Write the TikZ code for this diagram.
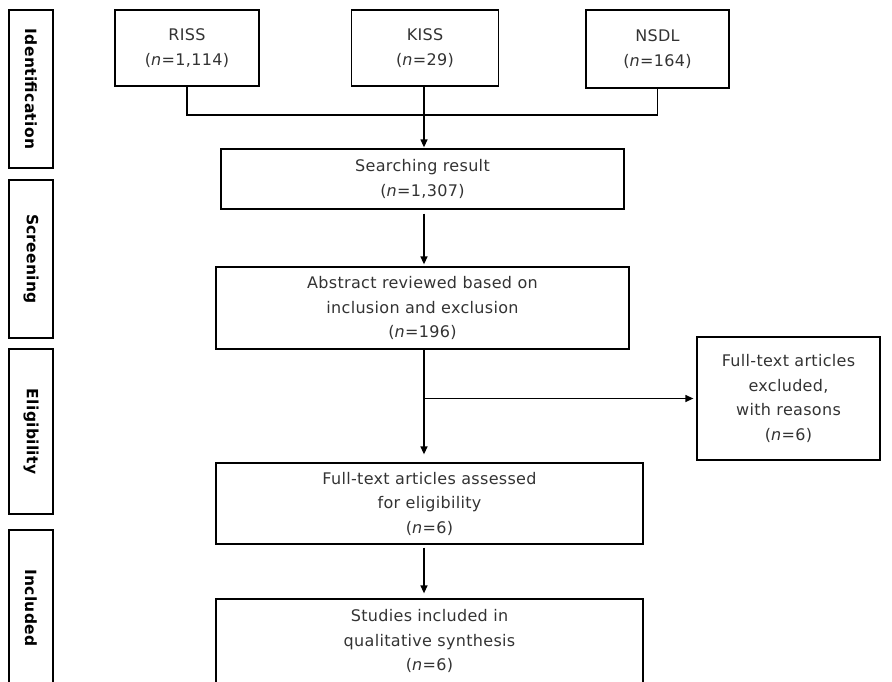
\documentclass[tikz,border=0pt]{standalone}
\usepackage{fontspec}
\setmainfont{DejaVu Sans}[LetterSpace=2]
\usetikzlibrary{arrows.meta}

\newcommand{\nn}[1]{(\textit{n}=#1)}

\begin{document}
\begin{tikzpicture}[x=1pt,y=-1pt,line width=1.3pt,
	box/.style={draw,rectangle,align=center,inner sep=0pt,text=black!80,font=\fontsize{16}{24.5}\selectfont},
	phase/.style={draw,rectangle,rotate=-90,inner sep=0pt,minimum height=44pt,font=\fontsize{15.5}{18}\selectfont\bfseries},
	arr/.style={-{Triangle[length=8pt,width=7pt]}}]
			\useasboundingbox (0,0) rectangle (892,681);
			% phases on the left
			\node[phase,minimum width=158pt] (ident) at (31,89) {Identification};
			\node[phase,minimum width=158pt] (screen) at (31,259) {Screening};
			\node[phase,minimum width=165pt] (elig) at (31,431.5) {Eligibility};
			\node[phase,minimum width=156pt] (incl) at (31,608) {Included};
			% databases
			\node[box,minimum width=144pt,minimum height=76pt] (riss) at (187,48) {RISS\\\nn{1,114}};
			\node[box,minimum width=147pt,minimum height=76pt] (kiss) at (425,48) {KISS\\\nn{29}};
			\node[box,minimum width=143pt,minimum height=78pt] (nsdl) at (657.5,49) {NSDL\\\nn{164}};
			% flow
			\node[box,minimum width=403pt,minimum height=60pt] (search) at (422.5,179) {Searching result\\\nn{1,307}};
			\node[box,minimum width=413pt,minimum height=82pt] (abstr) at (422.5,308) {Abstract reviewed based on\\inclusion and exclusion\\\nn{196}};
			\node[box,minimum width=183pt,minimum height=123pt] (excl) at (788.5,398.5) {Full-text articles\\excluded,\\with reasons\\\nn{6}};
			\node[box,minimum width=427pt,minimum height=81pt] (assess) at (429.5,503.5) {Full-text articles assessed\\for eligibility\\\nn{6}};
			\node[box,minimum width=427pt,minimum height=84pt] (incl2) at (429.5,641) {Studies included in\\qualitative synthesis\\\nn{6}};
			% connectors
			\coordinate (join) at (424,115);
			\draw (riss.south) |- (join) -| (nsdl.south);
			\draw[arr,shorten >=1pt] (kiss.south -| join) -- (search.north -| join);
			\draw[arr,shorten <=4pt,shorten >=2pt] (search.south -| join) -- (abstr.north -| join);
			\coordinate (split) at (join |- excl.west);
			\draw[arr,shorten >=8pt] (abstr.south -| join) -- (assess.north -| join);
			\draw[arr,shorten >=3pt] (split) -- (excl.west);
			\draw[arr,shorten <=3pt,shorten >=5pt] (assess.south -| join) -- (incl2.north -| join);
		\end{tikzpicture}
\end{document}
